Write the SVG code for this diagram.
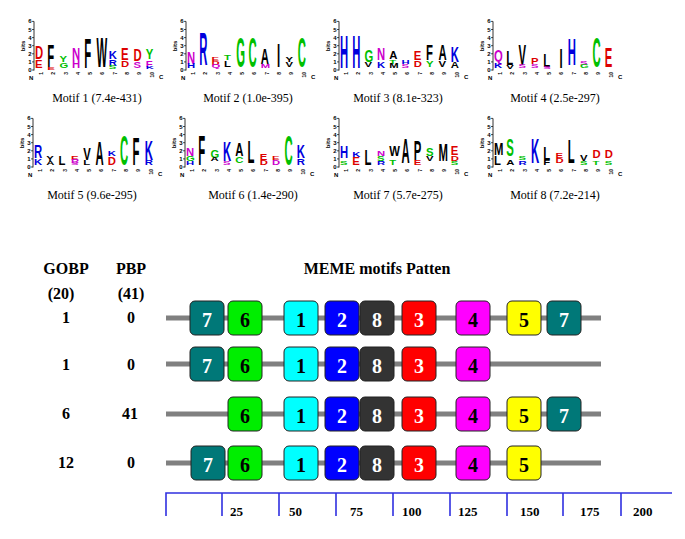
<svg xmlns="http://www.w3.org/2000/svg" xmlns:xlink="http://www.w3.org/1999/xlink" width="685" height="539" viewBox="0 0 685 539">
<style>
.L{font-family:"Liberation Sans",Arial,sans-serif;font-weight:bold;font-size:11.313px}
.g{fill:#00c000}.b{fill:#0000dd}.r{fill:#dd0000}.m{fill:#cc00cc}.k{fill:#000}
.ax{font-family:"Liberation Sans",Arial,sans-serif;font-weight:bold;font-size:6px;fill:#000}
.cn{font-family:"Liberation Sans",Arial,sans-serif;font-weight:bold;font-size:5px;fill:#000}
.cap{font-family:"Liberation Serif","Times New Roman",serif;font-size:12px;fill:#000;text-anchor:middle}
.hd{font-family:"Liberation Serif","Times New Roman",serif;font-weight:bold;font-size:16px;fill:#000;text-anchor:middle}
.bx{stroke:#222;stroke-width:1}
.bt{font-family:"Liberation Serif","Times New Roman",serif;font-weight:bold;font-size:20px;text-anchor:middle}
.wt{fill:#fff}.kt{fill:#000}
.seq{stroke:#808080;stroke-width:5}
.tk{font-family:"Liberation Serif","Times New Roman",serif;font-weight:bold;font-size:13px;fill:#000}
</style>
<defs>
<g id="axis">
<line x1="0" y1="0.5" x2="0" y2="-48.6" stroke="#000" stroke-width="0.8"/>
<path d="M-2 0H0M-2 -8.1H0M-2 -16.2H0M-2 -24.3H0M-2 -32.4H0M-2 -40.5H0M-2 -48.6H0" stroke="#000" stroke-width="0.7"/>
<g class="ax" text-anchor="end">
<text x="-2.5" y="2">0</text><text x="-2.5" y="-6.1">1</text><text x="-2.5" y="-14.2">2</text><text x="-2.5" y="-22.3">3</text><text x="-2.5" y="-30.4">4</text><text x="-2.5" y="-38.5">5</text><text x="-2.5" y="-46.6">6</text>
</g>
<text class="ax" transform="translate(-9,-24) rotate(-90)" text-anchor="middle" font-size="5.5">bits</text>
<g class="cn" text-anchor="end">
<text transform="translate(8.9,2) rotate(-90)">1</text>
<text transform="translate(21.2,2) rotate(-90)">2</text>
<text transform="translate(33.5,2) rotate(-90)">3</text>
<text transform="translate(45.8,2) rotate(-90)">4</text>
<text transform="translate(58.1,2) rotate(-90)">5</text>
<text transform="translate(70.4,2) rotate(-90)">6</text>
<text transform="translate(82.7,2) rotate(-90)">7</text>
<text transform="translate(95,2) rotate(-90)">8</text>
<text transform="translate(107.3,2) rotate(-90)">9</text>
<text transform="translate(119.6,2) rotate(-90)">10</text>
</g>
<text class="ax" x="-5" y="10">N</text>
<text class="ax" x="125" y="9">C</text>
</g>
</defs>

<g id="logo1" transform="translate(34,70)">
<use xlink:href="#axis"/>
<text class="L r" textLength="11.8" transform="matrix(1 0 0 1.7 1 -10.53)">D</text>
<text class="L r" textLength="11.8" transform="matrix(1 0 0 1.0 1 -2.43)">E</text>
<text class="L k" textLength="11.8" transform="matrix(1 0 0 2.8 13.3 -3.24)">F</text>
<text class="L r" textLength="11.8" transform="matrix(1 0 0 0.35 13.3 -0.4)">E</text>
<text class="L g" textLength="11.8" transform="matrix(1 0 0 0.8 25.6 -8.1)">Y</text>
<text class="L g" textLength="11.8" transform="matrix(1 0 0 0.7 25.6 -2.43)">G</text>
<text class="L m" textLength="11.8" transform="matrix(1 0 0 1.4 37.9 -9.72)">N</text>
<text class="L m" textLength="11.8" transform="matrix(1 0 0 1.0 37.9 -1.62)">H</text>
<text class="L k" textLength="11.8" transform="matrix(1 0 0 3.7 50.2 -1.62)">F</text>
<text class="L k" textLength="11.8" transform="matrix(1 0 0 3.7 62.5 -3.24)">W</text>
<text class="L b" textLength="11.8" transform="matrix(1 0 0 1.0 74.8 -11.34)">K</text>
<text class="L b" textLength="11.8" transform="matrix(1 0 0 0.8 74.8 -4.05)">R</text>
<text class="L g" textLength="11.8" transform="matrix(1 0 0 0.4 74.8 -0.81)">S</text>
<text class="L r" textLength="11.8" transform="matrix(1 0 0 1.4 87.1 -9.72)">E</text>
<text class="L r" textLength="11.8" transform="matrix(1 0 0 0.8 87.1 -3.24)">D</text>
<text class="L r" textLength="11.8" transform="matrix(1 0 0 1.5 99.4 -8.91)">D</text>
<text class="L m" textLength="11.8" transform="matrix(1 0 0 0.8 99.4 -2.43)">S</text>
<text class="L g" textLength="11.8" transform="matrix(1 0 0 1.3 111.7 -10.53)">Y</text>
<text class="L m" textLength="11.8" transform="matrix(1 0 0 0.8 111.7 -3.24)">F</text>
<text class="L b" textLength="11.8" transform="matrix(1 0 0 0.3 111.7 -0.81)">K</text>
</g>
<text class="cap" x="97" y="102">Motif 1 (7.4e-431)</text>

<g id="logo2" transform="translate(186,70)">
<use xlink:href="#axis"/>
<text class="L m" textLength="11.8" transform="matrix(1 0 0 1.4 1 -6.48)">N</text>
<text class="L b" textLength="11.8" transform="matrix(1 0 0 0.6 1 -1.62)">H</text>
<text class="L b" textLength="11.8" transform="matrix(1 0 0 4.1 13.3 -4.86)">R</text>
<text class="L r" textLength="11.8" transform="matrix(1 0 0 0.5 25.6 -8.91)">E</text>
<text class="L r" textLength="11.8" transform="matrix(1 0 0 0.5 25.6 -4.86)">D</text>
<text class="L m" textLength="11.8" transform="matrix(1 0 0 0.4 25.6 -1.62)">Q</text>
<text class="L g" textLength="11.8" transform="matrix(1 0 0 0.7 37.9 -9.72)">T</text>
<text class="L k" textLength="11.8" transform="matrix(1 0 0 0.8 37.9 -3.24)">L</text>
<text class="L g" textLength="11.8" transform="matrix(1 0 0 3.7 50.2 -3.24)">G</text>
<text class="L g" textLength="11.8" transform="matrix(1 0 0 3.7 62.5 -3.24)">C</text>
<text class="L k" textLength="11.8" transform="matrix(1 0 0 2.0 74.8 -6.48)">A</text>
<text class="L m" textLength="11.8" transform="matrix(1 0 0 0.5 74.8 -2.43)">M</text>
<text class="L k" textLength="4" transform="matrix(1 0 0 3.0 91 -3.24)">I</text>
<text class="L k" textLength="11.8" transform="matrix(1 0 0 0.6 99.4 -8.1)">Y</text>
<text class="L k" textLength="11.8" transform="matrix(1 0 0 0.6 99.4 -3.24)">V</text>
<text class="L g" textLength="11.8" transform="matrix(1 0 0 3.7 111.7 -3.24)">C</text>
</g>
<text class="cap" x="248" y="102">Motif 2 (1.0e-395)</text>

<g id="logo3" transform="translate(339,70)">
<use xlink:href="#axis"/>
<text class="L b" textLength="11.8" transform="matrix(1 0 0 4.1 1 -1.62)">H</text>
<text class="L b" textLength="11.8" transform="matrix(1 0 0 4.1 13.3 -1.62)">H</text>
<text class="L g" textLength="11.8" transform="matrix(1 0 0 1.4 25.6 -8.1)">G</text>
<text class="L k" textLength="11.8" transform="matrix(1 0 0 0.6 25.6 -3.24)">V</text>
<text class="L m" textLength="11.8" transform="matrix(1 0 0 1.4 37.9 -9.72)">N</text>
<text class="L b" textLength="11.8" transform="matrix(1 0 0 0.8 37.9 -1.62)">K</text>
<text class="L k" textLength="11.8" transform="matrix(1 0 0 1.0 50.2 -11.34)">A</text>
<text class="L g" textLength="11.8" transform="matrix(1 0 0 0.5 50.2 -6.48)">T</text>
<text class="L k" textLength="11.8" transform="matrix(1 0 0 0.6 50.2 -1.62)">M</text>
<text class="L b" textLength="11.8" transform="matrix(1 0 0 0.5 62.5 -5.67)">H</text>
<text class="L m" textLength="11.8" transform="matrix(1 0 0 0.4 62.5 -1.62)">S</text>
<text class="L r" textLength="11.8" transform="matrix(1 0 0 1.2 74.8 -9.72)">E</text>
<text class="L r" textLength="11.8" transform="matrix(1 0 0 0.8 74.8 -3.24)">D</text>
<text class="L k" textLength="11.8" transform="matrix(1 0 0 2.0 87.1 -9.72)">F</text>
<text class="L g" textLength="11.8" transform="matrix(1 0 0 0.8 87.1 -3.24)">Y</text>
<text class="L k" textLength="11.8" transform="matrix(1 0 0 2.0 99.4 -9.72)">A</text>
<text class="L k" textLength="11.8" transform="matrix(1 0 0 0.8 99.4 -3.24)">V</text>
<text class="L b" textLength="11.8" transform="matrix(1 0 0 2.0 111.7 -8.1)">K</text>
<text class="L k" textLength="11.8" transform="matrix(1 0 0 0.8 111.7 -1.62)">A</text>
</g>
<text class="cap" x="398" y="102">Motif 3 (8.1e-323)</text>

<g id="logo4" transform="translate(493,70)">
<use xlink:href="#axis"/>
<text class="L m" textLength="11.8" transform="matrix(1 0 0 1.4 1 -8.1)">Q</text>
<text class="L b" textLength="11.8" transform="matrix(1 0 0 0.7 1 -2.43)">K</text>
<text class="L k" textLength="11.8" transform="matrix(1 0 0 1.8 13.3 -4.86)">L</text>
<text class="L k" textLength="11.8" transform="matrix(1 0 0 0.5 13.3 -0.81)">V</text>
<text class="L k" textLength="11.8" transform="matrix(1 0 0 2.6 25.6 -4.86)">V</text>
<text class="L m" textLength="11.8" transform="matrix(1 0 0 0.4 25.6 -1.62)">S</text>
<text class="L r" textLength="11.8" transform="matrix(1 0 0 0.8 37.9 -6.48)">P</text>
<text class="L m" textLength="11.8" transform="matrix(1 0 0 0.5 37.9 -2.43)">S</text>
<text class="L k" textLength="11.8" transform="matrix(1 0 0 1.6 50.2 -3.24)">L</text>
<text class="L m" textLength="11.8" transform="matrix(1 0 0 0.3 50.2 -0.81)">S</text>
<text class="L k" textLength="4" transform="matrix(1 0 0 2.4 66.5 -1.62)">I</text>
<text class="L b" textLength="11.8" transform="matrix(1 0 0 3.3 74.8 -4.86)">H</text>
<text class="L m" textLength="11.8" transform="matrix(1 0 0 0.5 87.1 -4.86)">S</text>
<text class="L g" textLength="11.8" transform="matrix(1 0 0 0.4 87.1 -1.62)">G</text>
<text class="L g" textLength="11.8" transform="matrix(1 0 0 3.7 99.4 -3.24)">C</text>
<text class="L r" textLength="11.8" transform="matrix(1 0 0 2.45 111.7 -3.24)">E</text>
</g>
<text class="cap" x="555" y="102">Motif 4 (2.5e-297)</text>

<g id="logo5" transform="translate(33,167)">
<use xlink:href="#axis"/>
<text class="L b" textLength="11.8" transform="matrix(1 0 0 1.7 1 -8.91)">R</text>
<text class="L b" textLength="11.8" transform="matrix(1 0 0 0.8 1 -2.43)">K</text>
<text class="L k" textLength="11.8" transform="matrix(1 0 0 0.6 13.3 -5.67)">Y</text>
<text class="L k" textLength="11.8" transform="matrix(1 0 0 0.5 13.3 -1.62)">A</text>
<text class="L k" textLength="11.8" transform="matrix(1 0 0 1.2 25.6 -2.43)">L</text>
<text class="L r" textLength="11.8" transform="matrix(1 0 0 0.4 37.9 -7.29)">E</text>
<text class="L m" textLength="11.8" transform="matrix(1 0 0 0.4 37.9 -4.05)">R</text>
<text class="L m" textLength="11.8" transform="matrix(1 0 0 0.3 37.9 -1.62)">S</text>
<text class="L k" textLength="11.8" transform="matrix(1 0 0 1.5 50.2 -7.29)">V</text>
<text class="L k" textLength="11.8" transform="matrix(1 0 0 0.6 50.2 -2.43)">L</text>
<text class="L k" textLength="11.8" transform="matrix(1 0 0 2.9 62.5 -2.43)">A</text>
<text class="L b" textLength="11.8" transform="matrix(1 0 0 0.7 74.8 -10.53)">K</text>
<text class="L r" textLength="11.8" transform="matrix(1 0 0 1.0 74.8 -2.43)">D</text>
<text class="L g" textLength="11.8" transform="matrix(1 0 0 3.7 87.1 -2.43)">C</text>
<text class="L k" textLength="11.8" transform="matrix(1 0 0 3.5 99.4 -2.43)">F</text>
<text class="L b" textLength="11.8" transform="matrix(1 0 0 2.5 111.7 -7.29)">K</text>
<text class="L b" textLength="11.8" transform="matrix(1 0 0 0.6 111.7 -2.43)">R</text>
</g>
<text class="cap" x="92" y="199">Motif 5 (9.6e-295)</text>

<g id="logo6" transform="translate(185,167)">
<use xlink:href="#axis"/>
<text class="L m" textLength="11.8" transform="matrix(1 0 0 0.9 1 -10.53)">N</text>
<text class="L g" textLength="11.8" transform="matrix(1 0 0 0.6 1 -5.67)">G</text>
<text class="L b" textLength="11.8" transform="matrix(1 0 0 0.4 1 -2.43)">H</text>
<text class="L k" textLength="11.8" transform="matrix(1 0 0 3.7 13.3 -2.43)">F</text>
<text class="L g" textLength="11.8" transform="matrix(1 0 0 0.9 25.6 -8.91)">G</text>
<text class="L k" textLength="11.8" transform="matrix(1 0 0 0.4 25.6 -5.67)">A</text>
<text class="L b" textLength="11.8" transform="matrix(1 0 0 2.5 37.9 -5.67)">K</text>
<text class="L m" textLength="11.8" transform="matrix(1 0 0 0.4 37.9 -2.43)">S</text>
<text class="L k" textLength="11.8" transform="matrix(1 0 0 1.7 50.2 -10.53)">A</text>
<text class="L g" textLength="11.8" transform="matrix(1 0 0 0.8 50.2 -4.05)">C</text>
<text class="L k" textLength="11.8" transform="matrix(1 0 0 2.7 62.5 -4.05)">L</text>
<text class="L r" textLength="11.8" transform="matrix(1 0 0 0.85 74.8 -7.29)">E</text>
<text class="L r" textLength="11.8" transform="matrix(1 0 0 0.6 74.8 -2.43)">D</text>
<text class="L r" textLength="11.8" transform="matrix(1 0 0 0.5 87.1 -7.29)">E</text>
<text class="L m" textLength="11.8" transform="matrix(1 0 0 0.6 87.1 -2.43)">D</text>
<text class="L g" textLength="11.8" transform="matrix(1 0 0 3.7 99.4 -2.43)">C</text>
<text class="L b" textLength="11.8" transform="matrix(1 0 0 1.7 111.7 -8.91)">K</text>
<text class="L b" textLength="11.8" transform="matrix(1 0 0 0.8 111.7 -2.43)">R</text>
</g>
<text class="cap" x="253" y="199">Motif 6 (1.4e-290)</text>

<g id="logo7" transform="translate(339,167)">
<use xlink:href="#axis"/>
<text class="L b" textLength="11.8" transform="matrix(1 0 0 1.5 1 -8.91)">H</text>
<text class="L g" textLength="11.8" transform="matrix(1 0 0 0.5 1 -2.43)">S</text>
<text class="L b" textLength="11.8" transform="matrix(1 0 0 0.6 13.3 -9.72)">K</text>
<text class="L r" textLength="11.8" transform="matrix(1 0 0 0.9 13.3 -2.43)">E</text>
<text class="L k" textLength="11.8" transform="matrix(1 0 0 1.9 25.6 -2.43)">L</text>
<text class="L m" textLength="11.8" transform="matrix(1 0 0 0.6 37.9 -11.34)">N</text>
<text class="L g" textLength="11.8" transform="matrix(1 0 0 0.6 37.9 -6.48)">S</text>
<text class="L b" textLength="11.8" transform="matrix(1 0 0 0.5 37.9 -2.43)">R</text>
<text class="L k" textLength="11.8" transform="matrix(1 0 0 1.3 50.2 -10.53)">W</text>
<text class="L g" textLength="11.8" transform="matrix(1 0 0 0.6 50.2 -2.43)">T</text>
<text class="L k" textLength="11.8" transform="matrix(1 0 0 3.1 62.5 -4.05)">A</text>
<text class="L k" textLength="11.8" transform="matrix(1 0 0 2.5 74.8 -7.29)">P</text>
<text class="L r" textLength="11.8" transform="matrix(1 0 0 0.6 74.8 -2.43)">E</text>
<text class="L g" textLength="11.8" transform="matrix(1 0 0 0.9 87.1 -10.53)">S</text>
<text class="L k" textLength="11.8" transform="matrix(1 0 0 0.6 87.1 -5.67)">V</text>
<text class="L k" textLength="11.8" transform="matrix(1 0 0 2.1 99.4 -5.67)">M</text>
<text class="L r" textLength="11.8" transform="matrix(1 0 0 1.1 111.7 -12.15)">E</text>
<text class="L r" textLength="11.8" transform="matrix(1 0 0 0.7 111.7 -6.48)">D</text>
<text class="L g" textLength="11.8" transform="matrix(1 0 0 0.5 111.7 -2.43)">S</text>
</g>
<text class="cap" x="398" y="199">Motif 7 (5.7e-275)</text>

<g id="logo8" transform="translate(493,167)">
<use xlink:href="#axis"/>
<text class="L k" textLength="11.8" transform="matrix(1 0 0 1.5 1 -12.15)">M</text>
<text class="L k" textLength="11.8" transform="matrix(1 0 0 1.2 1 -2.43)">L</text>
<text class="L g" textLength="11.8" transform="matrix(1 0 0 2.1 13.3 -10.53)">S</text>
<text class="L k" textLength="11.8" transform="matrix(1 0 0 0.6 13.3 -2.43)">A</text>
<text class="L g" textLength="11.8" transform="matrix(1 0 0 0.5 25.6 -7.29)">S</text>
<text class="L b" textLength="11.8" transform="matrix(1 0 0 0.5 25.6 -2.43)">R</text>
<text class="L b" textLength="11.8" transform="matrix(1 0 0 3.1 37.9 -4.05)">K</text>
<text class="L k" textLength="11.8" transform="matrix(1 0 0 1.7 50.2 -7.29)">L</text>
<text class="L k" textLength="11.8" transform="matrix(1 0 0 0.6 50.2 -2.43)">F</text>
<text class="L r" textLength="11.8" transform="matrix(1 0 0 0.6 62.5 -8.91)">E</text>
<text class="L r" textLength="11.8" transform="matrix(1 0 0 0.6 62.5 -4.05)">D</text>
<text class="L k" textLength="11.8" transform="matrix(1 0 0 2.9 74.8 -4.05)">L</text>
<text class="L k" textLength="11.8" transform="matrix(1 0 0 0.8 87.1 -6.48)">V</text>
<text class="L g" textLength="11.8" transform="matrix(1 0 0 0.5 87.1 -2.43)">S</text>
<text class="L r" textLength="11.8" transform="matrix(1 0 0 0.9 99.4 -8.91)">D</text>
<text class="L g" textLength="11.8" transform="matrix(1 0 0 0.5 99.4 -2.43)">T</text>
<text class="L r" textLength="11.8" transform="matrix(1 0 0 0.9 111.7 -8.91)">D</text>
<text class="L g" textLength="11.8" transform="matrix(1 0 0 0.5 111.7 -2.43)">S</text>
</g>
<text class="cap" x="555" y="199">Motif 8 (7.2e-214)</text>

<g id="headers">
<text class="hd" x="66" y="274">GOBP</text>
<text class="hd" x="131" y="274">PBP</text>
<text class="hd" x="61" y="299">(20)</text>
<text class="hd" x="131" y="299">(41)</text>
<text class="hd" x="377" y="274">MEME motifs Patten</text>
<text class="hd" x="66" y="323">1</text><text class="hd" x="131" y="323">0</text>
<text class="hd" x="66" y="370">1</text><text class="hd" x="131" y="370">0</text>
<text class="hd" x="66" y="419">6</text><text class="hd" x="130" y="419">41</text>
<text class="hd" x="66" y="468">12</text><text class="hd" x="131" y="468">0</text>
</g>

<g id="connectors">
<line class="seq" x1="166" y1="318" x2="601" y2="318"/>
<line class="seq" x1="166" y1="364" x2="601" y2="364"/>
<line class="seq" x1="166" y1="414" x2="601" y2="414"/>
<line class="seq" x1="166" y1="463" x2="601" y2="463"/>
</g>

<g id="row1">
<rect class="bx" x="190" y="301" width="34" height="34" rx="5" fill="#007878"/><text class="bt wt" x="207" y="327">7</text>
<rect class="bx" x="228" y="301" width="34" height="34" rx="5" fill="#00ee00"/><text class="bt kt" x="245" y="327">6</text>
<rect class="bx" x="284" y="301" width="34" height="34" rx="5" fill="#00ffff"/><text class="bt kt" x="301" y="327">1</text>
<rect class="bx" x="325" y="301" width="34" height="34" rx="5" fill="#0000ff"/><text class="bt wt" x="342" y="327">2</text>
<rect class="bx" x="360" y="301" width="34" height="34" rx="5" fill="#333333"/><text class="bt wt" x="377" y="327">8</text>
<rect class="bx" x="402" y="301" width="34" height="34" rx="5" fill="#ff0000"/><text class="bt wt" x="419" y="327">3</text>
<rect class="bx" x="456" y="301" width="34" height="34" rx="5" fill="#ff00ff"/><text class="bt kt" x="473" y="327">4</text>
<rect class="bx" x="507" y="301" width="34" height="34" rx="5" fill="#ffff00"/><text class="bt kt" x="524" y="327">5</text>
<rect class="bx" x="547" y="301" width="34" height="34" rx="5" fill="#007878"/><text class="bt wt" x="564" y="327">7</text>
</g>
<g id="row2">
<rect class="bx" x="190" y="347" width="34" height="34" rx="5" fill="#007878"/><text class="bt wt" x="207" y="373">7</text>
<rect class="bx" x="228" y="347" width="34" height="34" rx="5" fill="#00ee00"/><text class="bt kt" x="245" y="373">6</text>
<rect class="bx" x="284" y="347" width="34" height="34" rx="5" fill="#00ffff"/><text class="bt kt" x="301" y="373">1</text>
<rect class="bx" x="325" y="347" width="34" height="34" rx="5" fill="#0000ff"/><text class="bt wt" x="342" y="373">2</text>
<rect class="bx" x="360" y="347" width="34" height="34" rx="5" fill="#333333"/><text class="bt wt" x="377" y="373">8</text>
<rect class="bx" x="402" y="347" width="34" height="34" rx="5" fill="#ff0000"/><text class="bt wt" x="419" y="373">3</text>
<rect class="bx" x="456" y="347" width="34" height="34" rx="5" fill="#ff00ff"/><text class="bt kt" x="473" y="373">4</text>
</g>
<g id="row3">
<rect class="bx" x="228" y="397" width="34" height="34" rx="5" fill="#00ee00"/><text class="bt kt" x="245" y="423">6</text>
<rect class="bx" x="284" y="397" width="34" height="34" rx="5" fill="#00ffff"/><text class="bt kt" x="301" y="423">1</text>
<rect class="bx" x="325" y="397" width="34" height="34" rx="5" fill="#0000ff"/><text class="bt wt" x="342" y="423">2</text>
<rect class="bx" x="360" y="397" width="34" height="34" rx="5" fill="#333333"/><text class="bt wt" x="377" y="423">8</text>
<rect class="bx" x="402" y="397" width="34" height="34" rx="5" fill="#ff0000"/><text class="bt wt" x="419" y="423">3</text>
<rect class="bx" x="456" y="397" width="34" height="34" rx="5" fill="#ff00ff"/><text class="bt kt" x="473" y="423">4</text>
<rect class="bx" x="507" y="397" width="34" height="34" rx="5" fill="#ffff00"/><text class="bt kt" x="524" y="423">5</text>
<rect class="bx" x="547" y="397" width="34" height="34" rx="5" fill="#007878"/><text class="bt wt" x="564" y="423">7</text>
</g>
<g id="row4">
<rect class="bx" x="191" y="446" width="34" height="34" rx="5" fill="#007878"/><text class="bt wt" x="208" y="472">7</text>
<rect class="bx" x="228" y="446" width="34" height="34" rx="5" fill="#00ee00"/><text class="bt kt" x="245" y="472">6</text>
<rect class="bx" x="284" y="446" width="34" height="34" rx="5" fill="#00ffff"/><text class="bt kt" x="301" y="472">1</text>
<rect class="bx" x="325" y="446" width="34" height="34" rx="5" fill="#0000ff"/><text class="bt wt" x="342" y="472">2</text>
<rect class="bx" x="360" y="446" width="34" height="34" rx="5" fill="#333333"/><text class="bt wt" x="377" y="472">8</text>
<rect class="bx" x="402" y="446" width="34" height="34" rx="5" fill="#ff0000"/><text class="bt wt" x="419" y="472">3</text>
<rect class="bx" x="456" y="446" width="34" height="34" rx="5" fill="#ff00ff"/><text class="bt kt" x="473" y="472">4</text>
<rect class="bx" x="507" y="446" width="34" height="34" rx="5" fill="#ffff00"/><text class="bt kt" x="524" y="472">5</text>
</g>

<g id="scale">
<path d="M166 516V493H672M222 493V516M279 493V516M336 493V516M393 493V516M450 493V516M507 493V516M563 493V516M621 493V516" fill="none" stroke="#3030e0" stroke-width="1.6"/>
<text class="tk" x="230" y="516">25</text>
<text class="tk" x="289" y="516">50</text>
<text class="tk" x="350" y="516">75</text>
<text class="tk" x="402" y="516">100</text>
<text class="tk" x="458" y="516">125</text>
<text class="tk" x="520" y="516">150</text>
<text class="tk" x="580" y="516">175</text>
<text class="tk" x="633" y="516">200</text>
</g>
</svg>
